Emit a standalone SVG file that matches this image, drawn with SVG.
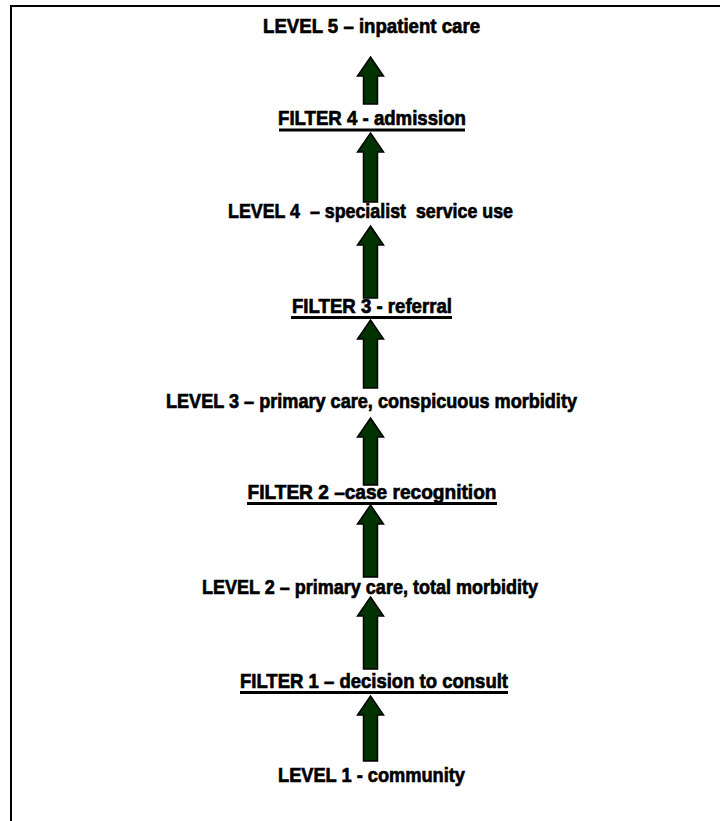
<svg xmlns="http://www.w3.org/2000/svg" width="720" height="821" viewBox="0 0 720 821">
<style>
.frame{fill:none;stroke:#000;stroke-width:2}
.lbl{font-family:"Liberation Sans",Arial,sans-serif;font-weight:bold;font-size:21px;fill:#000;stroke:#000;stroke-width:0.7;text-anchor:middle}
.ul{fill:#000}
.arr{fill:#003300;stroke:#000;stroke-width:1.5;stroke-linejoin:miter}
</style>
<rect width="720" height="821" fill="#fff"/>
<rect class="frame" x="11" y="6" width="730" height="840"/>
<g id="connectors">
<path class="arr" d="M370.5,57 L383.5,76 L377.5,76 L377.5,104 L363.5,104 L363.5,76 L357.5,76 Z"/>
<path class="arr" d="M370.5,133 L383.5,152 L377.5,152 L377.5,202 L363.5,202 L363.5,152 L357.5,152 Z"/>
<path class="arr" d="M370.5,226 L383.5,245 L377.5,245 L377.5,298 L363.5,298 L363.5,245 L357.5,245 Z"/>
<path class="arr" d="M370.5,320 L383.5,339 L377.5,339 L377.5,388 L363.5,388 L363.5,339 L357.5,339 Z"/>
<path class="arr" d="M370.5,418 L383.5,437 L377.5,437 L377.5,485 L363.5,485 L363.5,437 L357.5,437 Z"/>
<path class="arr" d="M370.5,505 L383.5,524 L377.5,524 L377.5,577 L363.5,577 L363.5,524 L357.5,524 Z"/>
<path class="arr" d="M370.5,597 L383.5,616 L377.5,616 L377.5,669 L363.5,669 L363.5,616 L357.5,616 Z"/>
<path class="arr" d="M370.5,696 L383.5,715 L377.5,715 L377.5,761 L363.5,761 L363.5,715 L357.5,715 Z"/>
</g>
<g id="level5"><text class="lbl" x="371.5" y="33" textLength="217" lengthAdjust="spacingAndGlyphs">LEVEL 5 – inpatient care</text></g>
<g id="filter4"><text class="lbl" x="372" y="125" textLength="188" lengthAdjust="spacingAndGlyphs">FILTER 4 - admission</text><rect class="ul" x="279" y="128.5" width="186" height="3"/></g>
<g id="level4"><text class="lbl" x="370.5" y="218" textLength="285" lengthAdjust="spacingAndGlyphs" xml:space="preserve">LEVEL 4  – specialist  service use</text></g>
<g id="filter3"><text class="lbl" x="372" y="313" textLength="160" lengthAdjust="spacingAndGlyphs">FILTER 3 - referral</text><rect class="ul" x="291" y="316" width="161" height="3"/></g>
<g id="level3"><text class="lbl" x="371.5" y="408" textLength="411" lengthAdjust="spacingAndGlyphs">LEVEL 3 – primary care, conspicuous morbidity</text></g>
<g id="filter2"><text class="lbl" x="372" y="499" textLength="249" lengthAdjust="spacingAndGlyphs">FILTER 2 –case recognition</text><rect class="ul" x="247" y="502" width="250" height="3"/></g>
<g id="level2"><text class="lbl" x="370" y="594" textLength="336" lengthAdjust="spacingAndGlyphs">LEVEL 2 – primary care, total morbidity</text></g>
<g id="filter1"><text class="lbl" x="374" y="688" textLength="268" lengthAdjust="spacingAndGlyphs">FILTER 1 – decision to consult</text><rect class="ul" x="240" y="691" width="268" height="3"/></g>
<g id="level1"><text class="lbl" x="371.5" y="782" textLength="187" lengthAdjust="spacingAndGlyphs">LEVEL 1 - community</text></g>
</svg>
